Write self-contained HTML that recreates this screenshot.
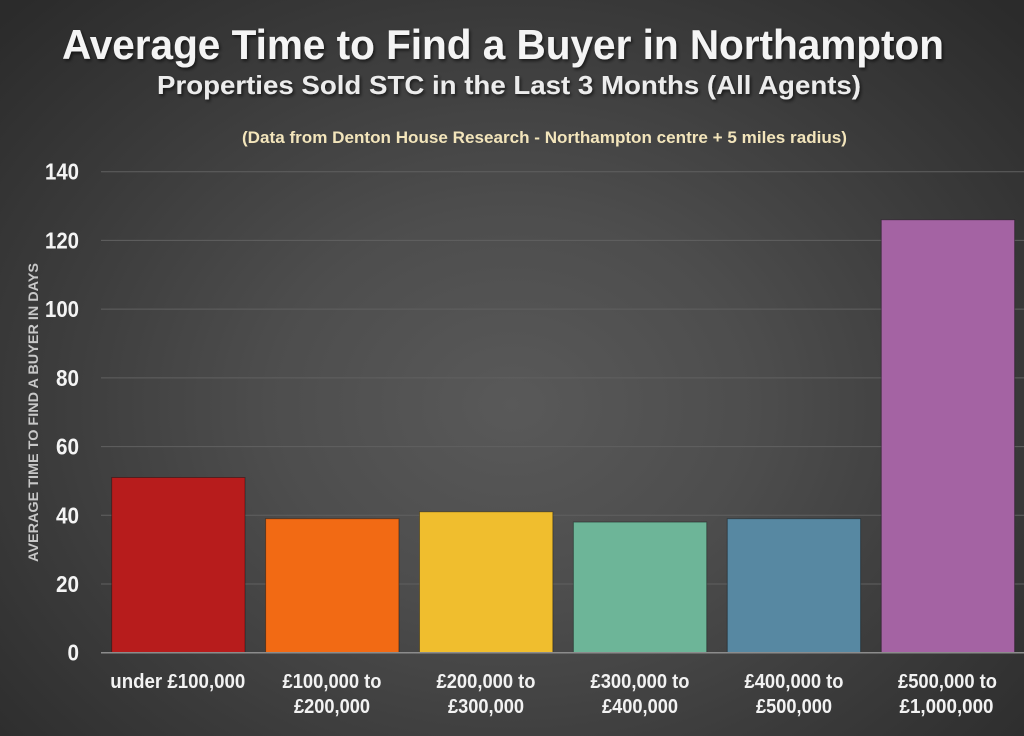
<!DOCTYPE html>
<html>
<head>
<meta charset="utf-8">
<style>
  html,body{margin:0;padding:0;}
  body{width:1024px;height:736px;overflow:hidden;
    background: radial-gradient(ellipse 700px 560px at 50% 55%, #595959 0%, #4d4d4d 35%, #3a3a3a 70%, #2b2b2b 100%);}
  svg{display:block;}
  text{font-family:"Liberation Sans","DejaVu Sans",sans-serif;}
</style>
</head>
<body>
<svg width="1024" height="736" viewBox="0 0 1024 736" xmlns="http://www.w3.org/2000/svg">
  <defs>
    <filter id="sh" x="-5%" y="-20%" width="110%" height="150%">
      <feDropShadow dx="1.5" dy="2" stdDeviation="1.5" flood-color="#000" flood-opacity="0.6"/>
    </filter>
  </defs>

  <!-- Titles -->
  <text x="503" y="59" font-size="42" font-weight="bold" fill="#f4f4f4" text-anchor="middle" textLength="882" lengthAdjust="spacingAndGlyphs" filter="url(#sh)">Average Time to Find a Buyer in Northampton</text>
  <text x="509" y="94" font-size="26" font-weight="bold" fill="#ececec" text-anchor="middle" textLength="704" lengthAdjust="spacingAndGlyphs" filter="url(#sh)">Properties Sold STC in the Last 3 Months (All Agents)</text>
  <text x="544.5" y="143" font-size="17" font-weight="bold" fill="#f3e5bb" text-anchor="middle" textLength="605" lengthAdjust="spacingAndGlyphs">(Data from Denton House Research - Northampton centre + 5 miles radius)</text>

  <!-- Gridlines -->
  <g stroke="#606060" stroke-width="1">
    <line x1="101" y1="171.7" x2="1024" y2="171.7"/>
    <line x1="101" y1="240.4" x2="1024" y2="240.4"/>
    <line x1="101" y1="309.1" x2="1024" y2="309.1"/>
    <line x1="101" y1="377.9" x2="1024" y2="377.9"/>
    <line x1="101" y1="446.6" x2="1024" y2="446.6"/>
    <line x1="101" y1="515.3" x2="1024" y2="515.3"/>
    <line x1="101" y1="584.0" x2="1024" y2="584.0"/>
  </g>

  <!-- Y tick labels -->
  <g font-size="23" font-weight="bold" fill="#f4f4f4" text-anchor="end">
    <text x="79" y="179.7" textLength="34" lengthAdjust="spacingAndGlyphs">140</text>
    <text x="79" y="248.4" textLength="34" lengthAdjust="spacingAndGlyphs">120</text>
    <text x="79" y="317.1" textLength="34" lengthAdjust="spacingAndGlyphs">100</text>
    <text x="79" y="385.9" textLength="23" lengthAdjust="spacingAndGlyphs">80</text>
    <text x="79" y="454.6" textLength="23" lengthAdjust="spacingAndGlyphs">60</text>
    <text x="79" y="523.3" textLength="23" lengthAdjust="spacingAndGlyphs">40</text>
    <text x="79" y="592.0" textLength="23" lengthAdjust="spacingAndGlyphs">20</text>
    <text x="79" y="660.7" textLength="11.5" lengthAdjust="spacingAndGlyphs">0</text>
  </g>

  <!-- Y axis title -->
  <text transform="translate(38,412.5) rotate(-90)" font-size="14" font-weight="bold" fill="#c8c8c8" text-anchor="middle" textLength="299" lengthAdjust="spacingAndGlyphs">AVERAGE TIME TO FIND A BUYER IN DAYS</text>

  <!-- Bars -->
  <g stroke-width="1" stroke-opacity="0.35" stroke="#000">
    <rect x="111.7" y="477.5" width="133.3" height="175.2" fill="#b71c1c"/>
    <rect x="265.6" y="518.7" width="133.3" height="134.0" fill="#f26a14"/>
    <rect x="419.5" y="511.8" width="133.3" height="140.9" fill="#f0be2e"/>
    <rect x="573.4" y="522.1" width="133.3" height="130.6" fill="#6db598"/>
    <rect x="727.3" y="518.7" width="133.3" height="134.0" fill="#5788a2"/>
    <rect x="881.3" y="219.8" width="133.3" height="432.9" fill="#a463a3"/>
  </g>

  <!-- Baseline -->
  <line x1="101" y1="652.7" x2="1024" y2="652.7" stroke="#8c8c8c" stroke-width="1.5"/>

  <!-- X labels -->
  <g font-size="20" font-weight="bold" fill="#f2f2f2" text-anchor="middle">
    <text x="177.8" y="688" textLength="135" lengthAdjust="spacingAndGlyphs">under £100,000</text>

    <text x="332" y="688" textLength="99" lengthAdjust="spacingAndGlyphs">£100,000 to</text>
    <text x="332" y="713" textLength="76" lengthAdjust="spacingAndGlyphs">£200,000</text>

    <text x="486" y="688" textLength="99" lengthAdjust="spacingAndGlyphs">£200,000 to</text>
    <text x="486" y="713" textLength="76" lengthAdjust="spacingAndGlyphs">£300,000</text>

    <text x="640" y="688" textLength="99" lengthAdjust="spacingAndGlyphs">£300,000 to</text>
    <text x="640" y="713" textLength="76" lengthAdjust="spacingAndGlyphs">£400,000</text>

    <text x="794" y="688" textLength="99" lengthAdjust="spacingAndGlyphs">£400,000 to</text>
    <text x="794" y="713" textLength="76" lengthAdjust="spacingAndGlyphs">£500,000</text>

    <text x="947.5" y="688" textLength="99" lengthAdjust="spacingAndGlyphs">£500,000 to</text>
    <text x="946.5" y="713" textLength="94" lengthAdjust="spacingAndGlyphs">£1,000,000</text>
  </g>
</svg>
</body>
</html>
